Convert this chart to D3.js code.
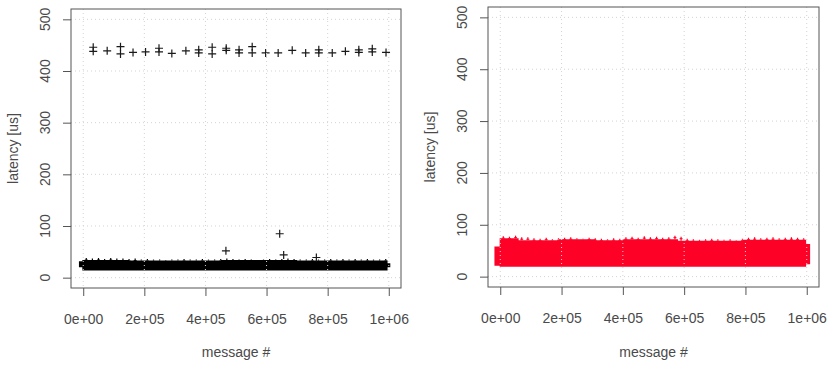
<!DOCTYPE html>
<html><head><meta charset="utf-8">
<script src="https://cdn.jsdelivr.net/npm/d3@7/dist/d3.min.js"></script>
<style>body{margin:0;background:#fff}svg{display:block}text{font-family:"Liberation Sans",Arial,sans-serif;fill:#4a4a4a}</style>
</head><body>
<script>
// ---- data ----
const xTicks = [0, 200000, 400000, 600000, 800000, 1000000];
const xTickLabels = ["0e+00", "2e+05", "4e+05", "6e+05", "8e+05", "1e+06"];
const yTicks = [0, 100, 200, 300, 400, 500];
const xLabel = "message #";
const yLabel = "latency [us]";

// left panel: periodic high-latency samples
const leftHighX = [32700, 32700, 78400, 122000, 122000, 163000, 204000, 248000, 248000, 290000, 336000, 378000, 378000, 422000, 422000, 468000, 468000, 510000, 510000, 553000, 553000, 597000, 638000, 684000, 728000, 771000, 771000, 815000, 858000, 902000, 902000, 946000, 946000, 991000];
const leftHighY = [446, 438, 439, 447, 433, 436, 437, 444, 437, 434, 439, 441, 435, 446, 433, 444, 440, 441, 435, 447, 435, 435, 435, 440, 435, 441, 435, 435, 438, 441, 436, 443, 437, 436];
// left panel: isolated outliers
const leftOutX = [467000, 643000, 656000, 763000];
const leftOutY = [52, 85, 44, 39];
// left panel: dense band envelope (segments start at edges[i])
const leftBandEdges = [-14000, -3000, 150000, 450000, 700000, 996000, 1005000];
const leftBandLo = [20, 14, 14, 14, 14, 20];
const leftBandHi = [32, 34, 33, 34, 33, 28];
const leftSpikeX = d3.range(50).map(i => 10000 + 20000 * i);
const leftSpikeY = [38,37,38,36,38,37,37,36,37,35, 36,35,35,34,35,35,36,35,35,36, 35,35,36,37,36,35,36,35,34,35, 36,35,36,37,36,35,35,36,35,35, 36,35,36,35,36,35,36,35,35,36];

// right panel: dense band envelope
const rightBandEdges = [-19000, -2000, 60000, 190000, 310000, 400000, 460000, 580000, 790000, 998000, 1011000];
const rightBandLo = [21, 19, 19, 19, 19, 19, 19, 19, 19, 24];
const rightBandHi = [58, 74, 70, 72, 70, 72, 72, 69, 71, 63];
const rightSpikeX = d3.range(50).map(i => 10000 + 20000 * i);
const rightSpikeY = [78,77,79,76,76,74,73,75,72,74, 75,76,74,73,75,74,73,72,74,73, 76,77,75,78,76,77,75,76,79,77, 73,72,71,72,73,72,71,72,70,73, 75,76,74,75,76,74,75,76,75,74];

// ---- drawing ----
const W = 835, H = 365;
const svg = d3.select("body").append("svg").attr("width", W).attr("height", H);
const axisCol = "#555";

const panels = [
  {x0: 71, x1: 401, y0: 9, y1: 288, col: "#000", band: [leftBandEdges, leftBandLo, leftBandHi], spikes: [leftSpikeX, leftSpikeY],
   pts: [[leftHighX, leftHighY], [leftOutX, leftOutY]]},
  {x0: 488, x1: 819, y0: 7, y1: 287, col: "#fd0226", band: [rightBandEdges, rightBandLo, rightBandHi], spikes: [rightSpikeX, rightSpikeY],
   pts: []}
];

panels.forEach(p => {
  const x = d3.scaleLinear().domain([-40000, 1040000]).range([p.x0, p.x1]);
  const y = d3.scaleLinear().domain([-20, 520]).range([p.y1, p.y0]);
  const g = svg.append("g");

  // band
  const [edges, lo, hi] = p.band;
  const areaData = edges.map((e, i) => ({x: e, lo: lo[Math.min(i, lo.length - 1)], hi: hi[Math.min(i, hi.length - 1)]}));
  g.append("path").datum(areaData)
    .attr("d", d3.area().x(d => x(d.x)).y0(d => y(d.lo)).y1(d => y(d.hi)).curve(d3.curveStepAfter))
    .attr("fill", p.col);
  // fringe spikes
  const [sx, sy] = p.spikes;
  const hiAt = v => { let k = 0; for (let i = 0; i < edges.length - 1; i++) if (v >= edges[i]) k = i; return hi[k]; };
  const sd = sx.map((v, i) => [v, sy[i]]);
  g.selectAll(null).data(sd).enter().append("line")
    .attr("x1", d => x(d[0])).attr("x2", d => x(d[0]))
    .attr("y1", d => y(hiAt(d[0]))).attr("y2", d => y(d[1]))
    .attr("stroke", p.col).attr("stroke-width", 1.2);
  g.selectAll(null).data(sd).enter().append("line")
    .attr("x1", d => x(d[0]) - 1.5).attr("x2", d => x(d[0]) + 1.5)
    .attr("y1", d => y(d[1]) + 2).attr("y2", d => y(d[1]) + 2)
    .attr("stroke", p.col).attr("stroke-width", 1);

  // individual points as "+"
  p.pts.forEach(([px, py]) => {
    g.selectAll(null).data(px.map((v, i) => [v, py[i]])).enter().append("path")
      .attr("transform", d => `translate(${x(d[0])},${y(d[1])})`)
      .attr("d", "M-4,0H4M0,-4V4").attr("stroke", "#1a1a1a").attr("stroke-width", 1.2).attr("fill", "none");
  });

  // grid (on top, like R grid())
  xTicks.forEach(t => g.append("line").attr("x1", x(t)).attr("x2", x(t)).attr("y1", p.y0).attr("y2", p.y1)
    .attr("stroke", "#d3d3d3").attr("stroke-dasharray", "1,3"));
  yTicks.forEach(t => g.append("line").attr("y1", y(t)).attr("y2", y(t)).attr("x1", p.x0).attr("x2", p.x1)
    .attr("stroke", "#d3d3d3").attr("stroke-dasharray", "1,3"));

  // box
  g.append("rect").attr("x", p.x0).attr("y", p.y0).attr("width", p.x1 - p.x0).attr("height", p.y1 - p.y0)
    .attr("fill", "none").attr("stroke", axisCol).attr("stroke-width", 1);

  // x axis
  const xa = g.append("g").attr("transform", `translate(0,${p.y1})`)
    .call(d3.axisBottom(x).tickValues(xTicks).tickFormat((d, i) => xTickLabels[i]).tickSize(8).tickPadding(18));
  xa.select(".domain").remove();
  xa.selectAll("line").attr("stroke", axisCol);
  xa.selectAll("text").attr("font-size", 14).attr("fill", "#4a4a4a").style("font-family", '"Liberation Sans",Arial,sans-serif');

  // y axis
  const ya = g.append("g").attr("transform", `translate(${p.x0},0)`)
    .call(d3.axisLeft(y).tickValues(yTicks).tickSize(8).tickFormat(d3.format("d")));
  ya.select(".domain").remove();
  ya.selectAll("line").attr("stroke", axisCol);
  ya.selectAll("text").remove();
  yTicks.forEach(t => g.append("text").attr("transform", `translate(${p.x0 - 26},${y(t)}) rotate(-90)`)
    .attr("text-anchor", "middle").attr("dy", "0.36em").attr("font-size", 14).text(t));

  // labels
  g.append("text").attr("x", (p.x0 + p.x1) / 2).attr("y", 356.5).attr("text-anchor", "middle").attr("font-size", 14).text(xLabel);
  g.append("text").attr("transform", `translate(${p.x0 - 58.5},${(p.y0 + p.y1) / 2}) rotate(-90)`)
    .attr("text-anchor", "middle").attr("dy", "0.36em").attr("font-size", 14).text(yLabel);
});
</script>
</body></html>
